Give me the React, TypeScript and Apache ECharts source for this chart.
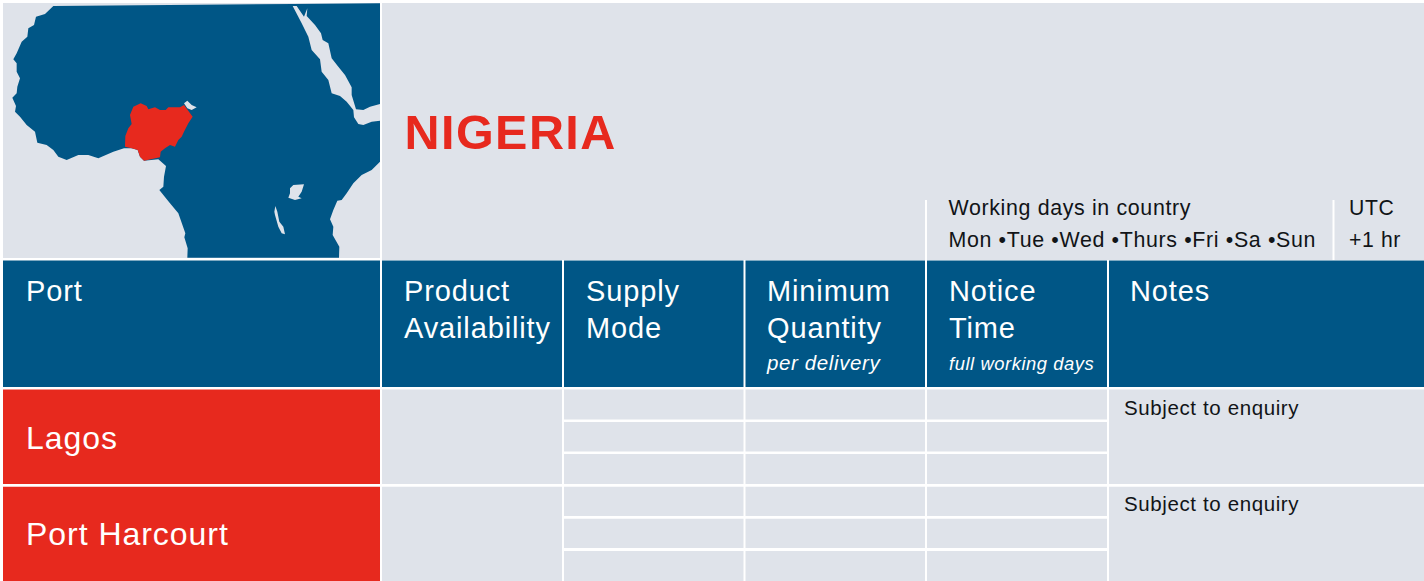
import React, { useEffect, useRef } from "react";
import * as echarts from "echarts";

const title = "NIGERIA";
const columns = [["Port"], ["Product", "Availability"], ["Supply", "Mode"], ["Minimum", "Quantity"], ["Notice", "Time"], ["Notes"]];
const columnSubtitles = ["", "", "", "per delivery", "full working days", ""];
const ports = ["Lagos", "Port Harcourt"];
const notes = ["Subject to enquiry", "Subject to enquiry"];
const workingDays = ["Working days in country", "Mon •Tue •Wed •Thurs •Fri •Sa •Sun"];
const utc = ["UTC", "+1 hr"];

const BLUE = "#005686";
const RED = "#E7291E";
const LIGHT = "#DFE3EA";
const WHITE = "#ffffff";
const INK = "#111417";
const FONT = '"Liberation Sans", Arial, sans-serif';

// column edges [left, right] and header text offset
const colX = [[3, 380], [382, 562], [564, 743.5], [745.5, 925], [927, 1107], [1109, 1424]];
const headerX = [26, 404, 586, 767, 949, 1130];
const subtitleSize = [0, 0, 0, 20.5, 18.4, 0];
const rowY = [[389.5, 484], [486.8, 581]];
const subY = [[[389.5, 419.5], [422, 451.5], [454, 484]], [[486.8, 516], [518.7, 548], [551, 581]]];

const z3 = (pts: number[][]) => pts.map(([x, y]) => [x / 3, y / 3]);

const land = z3([[160,18],[880,12],[1140,10],[1140,485],[1115,510],[1085,525],[1060,550],[1040,580],[1025,600],[1012,602],[1000,630],[990,658],[1000,680],[998,705],[1018,740],[1017,773],[562,773],[563,745],[553,712],[556,700],[535,640],[510,610],[490,585],[478,570],[490,560],[492,530],[498,498],[475,478],[432,482],[420,470],[413,450],[395,445],[372,445],[340,455],[295,475],[265,465],[235,465],[200,480],[175,470],[160,450],[140,435],[112,428],[105,395],[80,375],[60,350],[45,335],[48,318],[37,293],[50,280],[52,260],[60,235],[50,215],[50,190],[40,178],[50,160],[65,125],[82,110],[85,85],[102,75],[108,50],[135,42]]);
const redSea = z3([[878,18],[890,18],[912,50],[922,25],[920,48],[945,75],[963,100],[968,120],[985,130],[995,175],[1015,200],[1035,225],[1055,262],[1055,285],[1068,328],[1090,330],[1110,320],[1140,312],[1140,362],[1115,365],[1090,375],[1075,372],[1062,352],[1060,330],[1040,305],[1020,288],[995,280],[985,240],[965,215],[960,178],[935,150],[925,110],[905,70]]);
const lakeChad = z3([[552,310],[562,302],[575,315],[590,322],[575,330],[562,325]]);
const lakeVictoria = z3([[870,565],[880,555],[912,553],[905,575],[895,590],[905,595],[885,600],[865,593],[870,580]]);
const lakeTanganyika = z3([[826,618],[832,635],[838,665],[850,680],[855,703],[845,700],[835,680],[825,645],[823,635]]);
const nigeria = z3([[375,440],[376,408],[385,385],[395,372],[390,345],[400,320],[422,310],[440,318],[445,328],[465,322],[480,330],[497,330],[505,322],[540,322],[552,315],[578,350],[565,370],[552,395],[545,410],[535,420],[525,440],[510,435],[495,445],[482,455],[480,472],[432,482],[420,470],[413,450],[395,445]]);

const rect = (x0: number, y0: number, x1: number, y1: number, fill: string) => ({
  type: "rect", silent: true, shape: { x: x0, y: y0, width: x1 - x0, height: y1 - y0 }, style: { fill },
});
const poly = (points: number[][], fill: string) => ({ type: "polygon", silent: true, shape: { points }, style: { fill } });
const label = (text: string, x: number, baseline: number, size: number, fill: string, extra = "") => ({
  type: "text", silent: true, x, y: baseline - 0.3465 * size,
  style: { text, x: 0, y: 0, fill, font: `${extra} ${size}px ${FONT}`.trim(), textAlign: "left", textVerticalAlign: "middle" },
});

function buildGraphics() {
  const els: any[] = [];
  els.push(rect(3, 3, 380, 258, LIGHT), rect(382, 3, 1424, 260, LIGHT));
  els.push(poly(land, BLUE), poly(redSea, LIGHT), poly(lakeChad, LIGHT), poly(lakeVictoria, LIGHT), poly(lakeTanganyika, LIGHT), poly(nigeria, RED));
  els.push(label(title, 404.5, 149, 48.5, RED, "bold"));
  // top dividers
  els.push(rect(925, 200, 927, 260, WHITE), rect(1332.5, 200, 1334.5, 260, WHITE));
  workingDays.forEach((t, i) => els.push(label(t, 948.5, 215 + i * 32, 21.4, INK)));
  utc.forEach((t, i) => els.push(label(t, 1349, 215 + i * 32, 21.2, INK)));
  // header
  colX.forEach(([l, r], c) => {
    els.push(rect(l, 260.5, r, 387, BLUE));
    columns[c].forEach((t, i) => els.push(label(t, headerX[c], 301 + i * 37, 29, WHITE)));
    if (columnSubtitles[c]) els.push(label(columnSubtitles[c], headerX[c], 370, subtitleSize[c], WHITE, "italic"));
  });
  // body
  ports.forEach((p, r) => {
    const [t, b] = rowY[r];
    els.push(rect(colX[0][0], t, colX[0][1], b, RED));
    els.push(label(p, 26, 449 + r * 96, 32, WHITE));
    els.push(rect(colX[1][0], t, colX[1][1], b, LIGHT));
    for (const c of [2, 3, 4]) {
      subY[r].forEach(([st, sb]) => els.push(rect(colX[c][0], st, colX[c][1], sb, LIGHT)));
    }
    els.push(rect(colX[5][0], t, colX[5][1], b, LIGHT));
    els.push(label(notes[r], 1124, 415 + r * 96, 20.5, INK));
  });
  return els;
}

export default function App() {
  const ref = useRef<HTMLDivElement>(null);
  useEffect(() => {
    const chart = echarts.init(ref.current!, undefined, { renderer: "svg" });
    chart.setOption({ animation: false, backgroundColor: WHITE, graphic: { elements: buildGraphics() } });
    return () => chart.dispose();
  }, []);
  return (
    <>
      <style>{`html,body{margin:0;padding:0;background:#fff} .cv text{letter-spacing:.03em}`}</style>
      <div ref={ref} className="cv" style={{ position: "absolute", left: 0, top: 0, width: 1424, height: 581 }} />
    </>
  );
}
